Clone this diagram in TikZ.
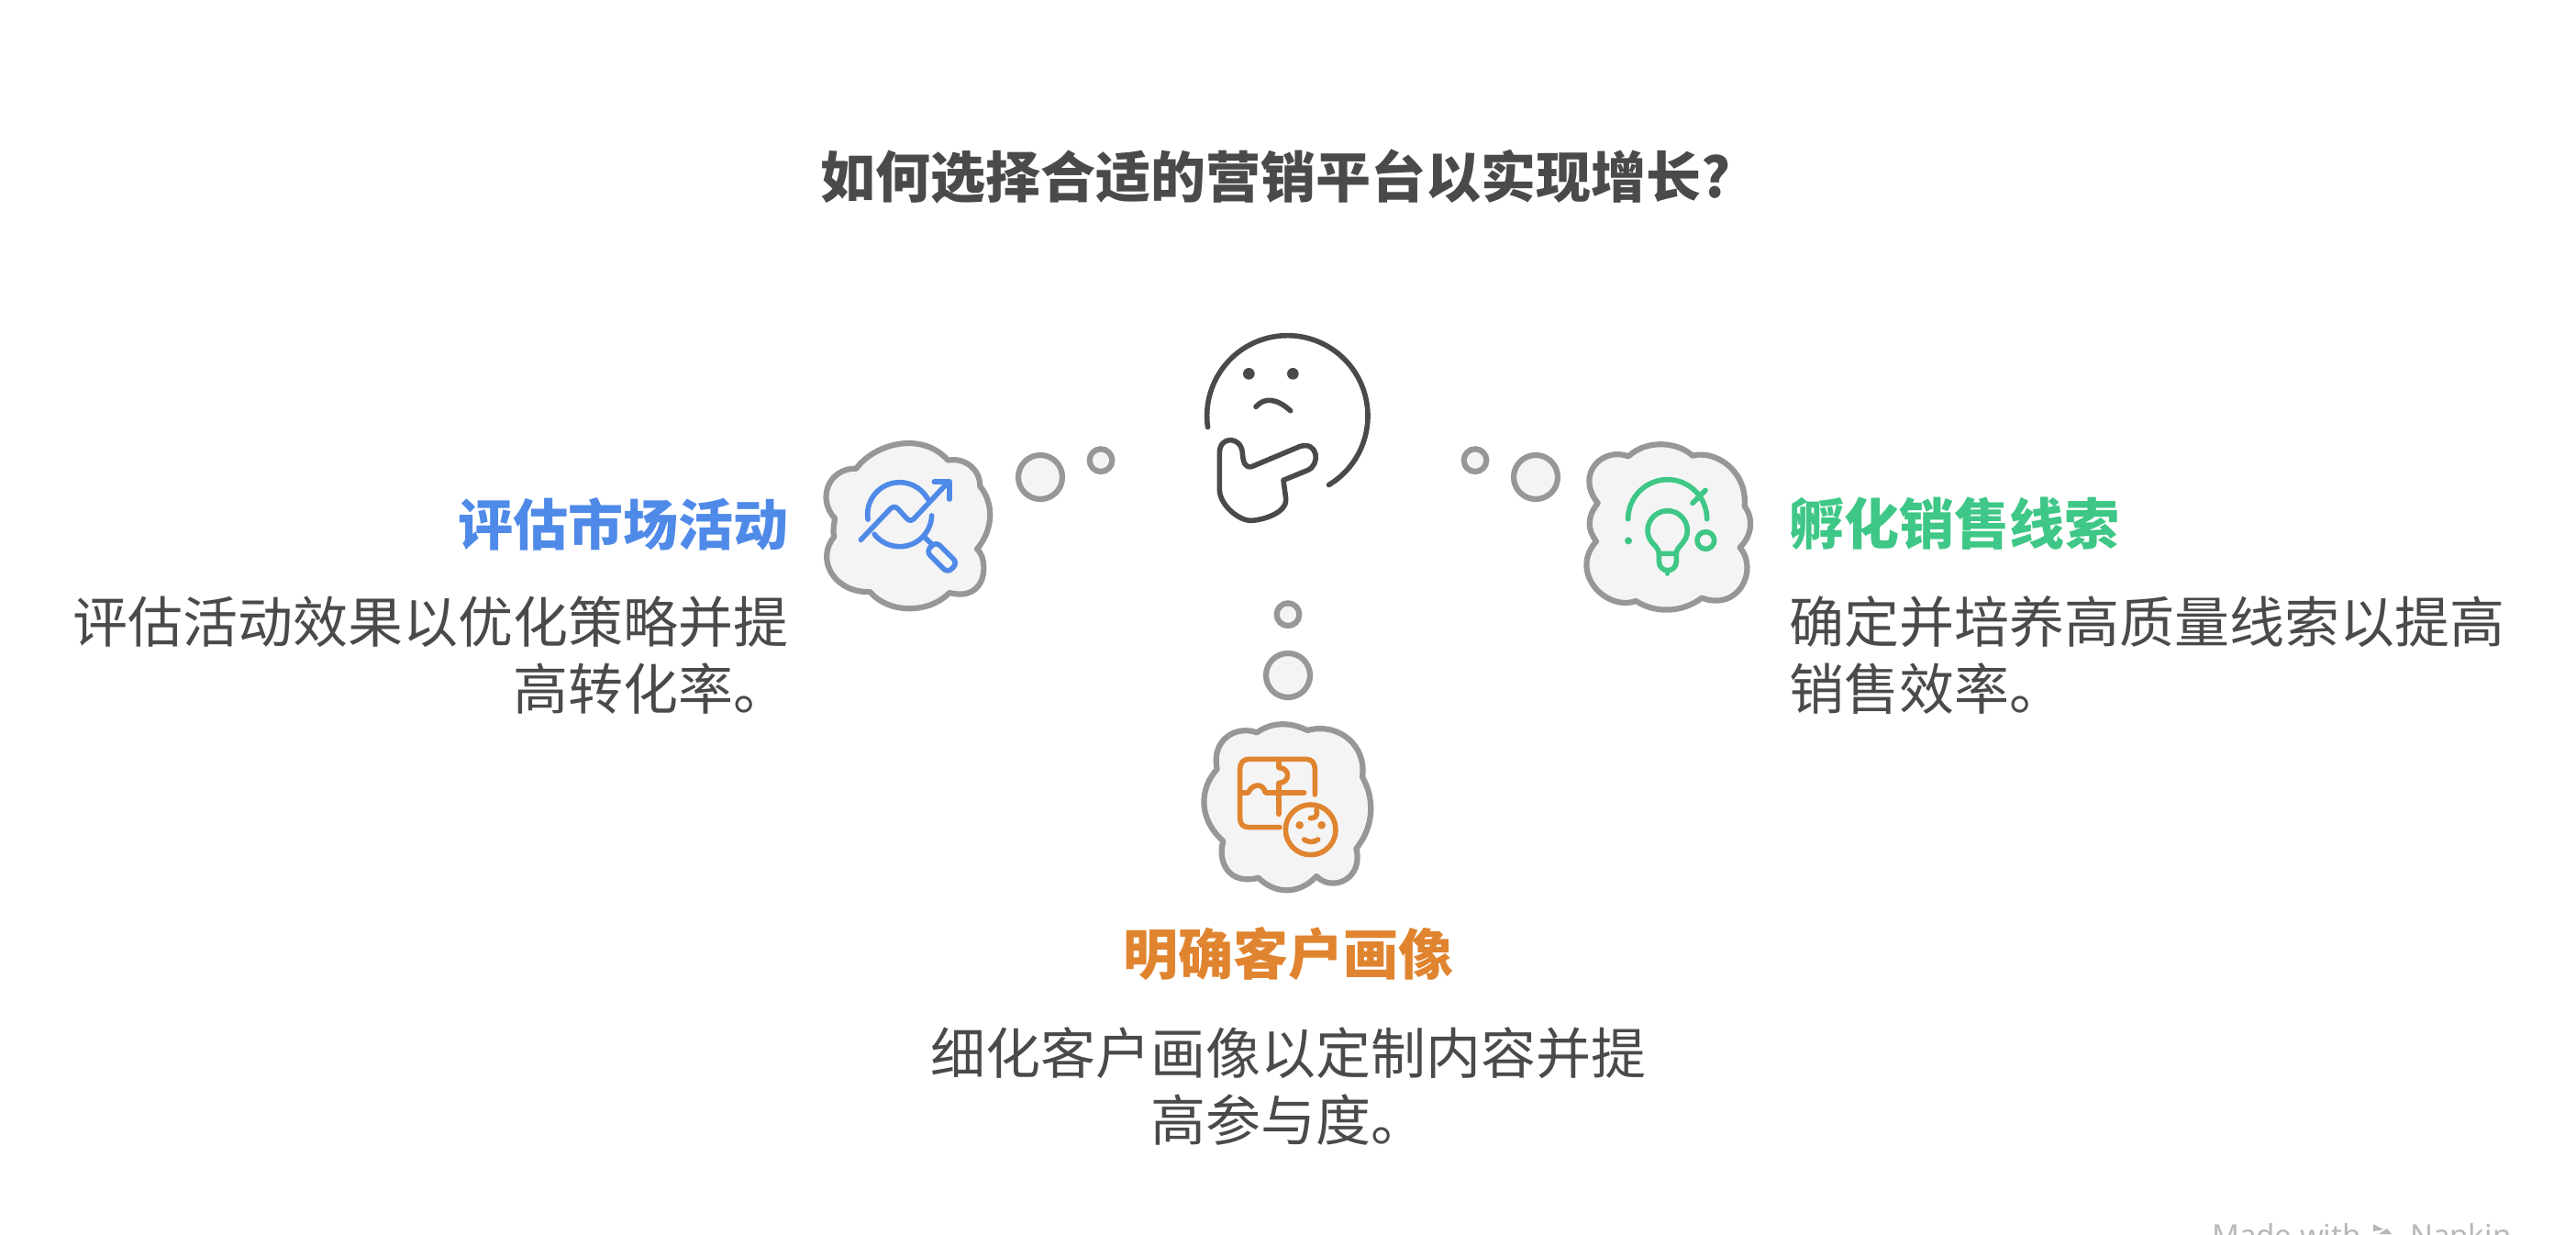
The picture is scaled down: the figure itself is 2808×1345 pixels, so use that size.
\documentclass[tikz,border=0pt]{standalone}
\usepackage{fontspec}
\usepackage{xcolor}
\usetikzlibrary{positioning}
\setmainfont{Noto Sans CJK SC}
\newfontfamily\markfont{Noto Sans}
\setlength{\lineskiplimit}{-20pt}
\setlength{\normallineskiplimit}{-20pt}
\definecolor{inkgray}{HTML}{4A4A4A}
\definecolor{cloudgray}{HTML}{979797}
\definecolor{cloudfill}{HTML}{F4F4F4}
\definecolor{markgray}{HTML}{B8B8B8}
\definecolor{bluehead}{HTML}{4F8AE8}
\definecolor{greenhead}{HTML}{3EC786}
\definecolor{orangehead}{HTML}{E0842F}
\tikzset{
    cloud/.style={draw=cloudgray, fill=cloudfill, line width=3.1pt, line join=round},
    bubble/.style={draw=cloudgray, fill=cloudfill, line width=3.1pt},
    iconline/.style={line width=2.8pt, line cap=round, line join=round},
    heading/.style={inner xsep=0pt, font=\fontsize{30pt}{37.5pt}\selectfont\bfseries},
    bodytext/.style={inner xsep=0pt, text=inkgray, font=\fontsize{30pt}{37.5pt}\selectfont},
    markword/.style={text=markgray, anchor=base west, font=\fontsize{16.5pt}{16.5pt}\markfont}
}
\begin{document}
\begin{tikzpicture}[x=0.5pt, y=-0.5pt]
    \useasboundingbox (0,0) rectangle (2808,1345);

    \node[heading, text=inkgray] (title) at (1391,192) {如何选择合适的营销平台以实现增长?};

    % thinking face
    \begin{scope}[shift={(1240,340)}, scale=1/3, draw=inkgray, iconline]
        \draw (490,340) ++(172:263) arc[start angle=172, end angle=419, radius=263];
        \fill[inkgray] (364,202) circle[radius=19];
        \fill[inkgray] (508,202) circle[radius=19];
        \draw (387,310) .. controls (415,278) and (455,282) .. (500,323);
        \draw (268,460) -- (268,580) .. controls (268,630) and (330,682) .. (370,682)
            .. controls (400,682) and (490,660) .. (485,610) -- (477,550) -- (555,518)
            .. controls (600,500) and (590,420) .. (530,440) -- (375,505)
            .. controls (350,512) and (345,490) .. (343,460)
            .. controls (338,405) and (268,405) .. (268,460) -- cycle;
    \end{scope}

    % left cloud
    \begin{scope}[shift={(880,460)}, scale=1/3]
        \draw[bubble] (762,180) circle[radius=72];
        \draw[bubble] (960,125) circle[radius=37];
        \draw[cloud] (160,152) .. controls (215,75) and (370,25) .. (460,125)
            .. controls (510,115) and (565,150) .. (565,210)
            .. controls (610,265) and (610,350) .. (555,415)
            .. controls (595,450) and (590,590) .. (465,558)
            .. controls (400,625) and (270,630) .. (205,555)
            .. controls (90,560) and (25,450) .. (88,375)
            .. controls (82,355) and (88,335) .. (90,315)
            .. controls (30,250) and (70,150) .. (160,152) -- cycle;
        \begin{scope}[draw=bluehead, iconline]
            \draw (302,302) ++(171:105) arc[start angle=171, end angle=331, radius=105];
            \draw (302,302) ++(142:105) arc[start angle=142, end angle=2, radius=105];
            \draw (175,385) -- (270,285) .. controls (280,275) and (288,275) .. (298,285)
                -- (325,315) .. controls (335,325) and (342,322) .. (350,315) -- (462,195);
            \draw (415,195) -- (465,195) -- (465,252);
            \draw (385,378) -- (408,400);
            \draw[rounded corners=3pt] (421,391) -- (491,461) -- (459,493) -- (389,423) -- cycle;
        \end{scope}
    \end{scope}

    % right cloud
    \begin{scope}[shift={(1570,460)}, scale=1/3]
        \draw[bubble] (312,180) circle[radius=72];
        \draw[bubble] (114,125) circle[radius=37];
        \draw[cloud] (615,112) .. controls (670,60) and (770,60) .. (825,110)
            .. controls (900,90) and (1005,160) .. (995,275)
            .. controls (1025,315) and (1020,370) .. (980,410)
            .. controls (1040,480) and (980,620) .. (855,575)
            .. controls (790,625) and (700,625) .. (640,585)
            .. controls (540,620) and (420,490) .. (510,390)
            .. controls (480,350) and (480,310) .. (515,265)
            .. controls (440,170) and (530,80) .. (615,112) -- cycle;
        \begin{scope}[draw=greenhead, iconline]
            \draw (743,317) ++(180:129) arc[start angle=180, end angle=360, radius=129];
            \draw (825,265) -- (867,223);
            \fill[greenhead] (615,388) circle[radius=12];
            \draw (868,387) circle[radius=28];
            \draw (715,430) .. controls (715,405) and (678,395) .. (678,355)
                arc[start angle=180, end angle=360, radius=65]
                .. controls (808,395) and (772,405) .. (772,430) -- cycle;
            \draw (715,430) -- (715,455) .. controls (715,495) and (772,495) .. (772,455) -- (772,430);
            \draw (743,485) -- (743,495);
        \end{scope}
    \end{scope}

    % bottom cloud
    \begin{scope}[shift={(1290,640)}, scale=1/3]
        \draw[bubble] (342,288) circle[radius=72];
        \draw[bubble] (342,89) circle[radius=37];
        \draw[cloud] (240,475) .. controls (290,440) and (350,440) .. (405,468)
            .. controls (510,440) and (600,520) .. (585,620)
            .. controls (625,690) and (625,780) .. (565,855)
            .. controls (590,950) and (490,1000) .. (435,945)
            .. controls (380,1005) and (300,1005) .. (245,950)
            .. controls (150,975) and (110,900) .. (130,830)
            .. controls (50,760) and (50,660) .. (110,595)
            .. controls (90,500) and (170,450) .. (240,475) -- cycle;
        \begin{scope}[draw=orangehead, iconline]
            \draw (430,678) -- (430,595) .. controls (430,575) and (420,562) .. (400,562) -- (215,562)
                .. controls (195,562) and (185,575) .. (185,595) -- (185,755)
                .. controls (185,775) and (195,785) .. (215,785) -- (315,785);
            \draw (185,672) -- (212,672) .. controls (225,640) and (262,640) .. (268,672) -- (395,672);
            \draw (312,562) -- (312,590) .. controls (350,590) and (350,640) .. (312,640) -- (312,742);
            \draw (416,793) circle[radius=82];
            \fill[orangehead] (380,778) circle[radius=13];
            \fill[orangehead] (452,778) circle[radius=13];
            \draw (395,825) .. controls (410,835) and (425,835) .. (440,825);
            \draw (435,728) .. controls (440,750) and (430,755) .. (415,755);
        \end{scope}
    \end{scope}

    \node[heading, text=bluehead, anchor=east] (evalhead) at (860,571) {评估市场活动};
    \node[bodytext, align=right] (evalbody) [below=18pt of evalhead.south east, anchor=north east] {评估活动效果以优化策略并提\\[-1pt]高转化率。};

    \node[heading, text=greenhead, anchor=west] (leadhead) at (1950,571) {孵化销售线索};
    \node[bodytext, align=left] (leadbody) [below=18pt of leadhead.south west, anchor=north west] {确定并培养高质量线索以提高\\[-1pt]销售效率。};

    \node[heading, text=orangehead] (personahead) at (1404,1040) {明确客户画像};
    \node[bodytext, align=center] (personabody) [below=18pt of personahead.south, anchor=north] {细化客户画像以定制内容并提\\[-1pt]高参与度。};

    % cut off by the page edge
    \node[markword] (madewith) at (2404,1358) {Made with};
    \fill[markgray] (2587,1334) -- (2587,1342) -- (2598,1340) -- cycle;
    \fill[markgray] (2593,1345) -- (2602,1339) -- (2607,1345) -- cycle;
    \node[markword] (napkin) at (2620,1358) {Napkin};
\end{tikzpicture}
\end{document}
